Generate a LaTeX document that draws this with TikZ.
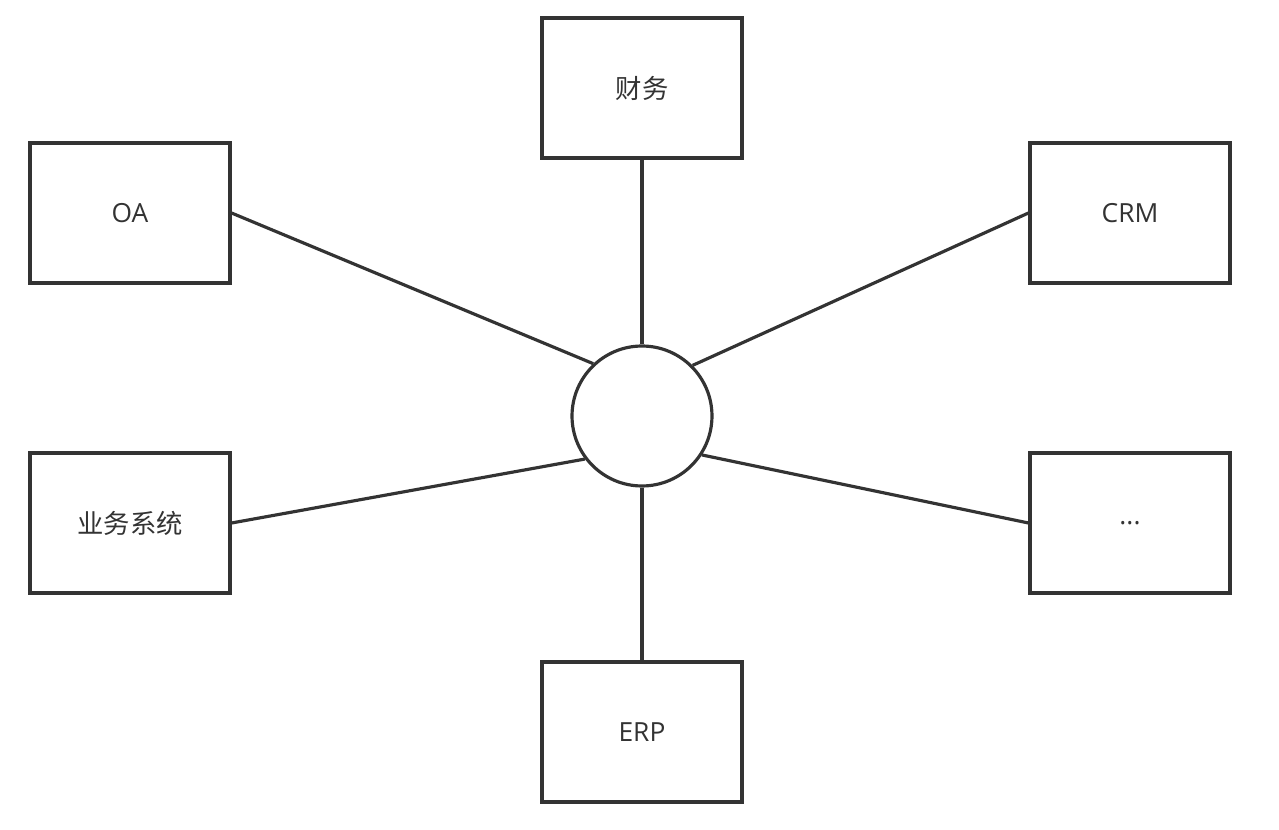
\documentclass[tikz,border=0pt]{standalone}
\usepackage{fontspec}
\setmainfont{Open Sans}
\newfontfamily\cjk{Noto Sans CJK SC}
\usepackage{xcolor}
\usepackage{tikz}
\usetikzlibrary{positioning}
\definecolor{ink}{HTML}{333333}
\tikzset{
  sysbox/.style={draw=ink, line width=1.8pt, fill=white, minimum width=4cm, minimum height=2.8cm, text=ink, font=\fontsize{15}{18}\selectfont},
  hubnode/.style={draw=ink, line width=1.8pt, circle, fill=white, minimum size=2.8cm},
  link/.style={draw=ink, line width=1.8pt}
}
\begin{document}
\begin{tikzpicture}[x=0.02cm, y=-0.02cm]
    \useasboundingbox (0,0) rectangle (1279,830);
    % Central hub
    \node[hubnode] (hub) at (642,416) {};

    % Surrounding systems
    \node[sysbox] (fin) at (642,88) {\cjk 财务};
    \node[sysbox] (oa) at (130,213) {OA};
    \node[sysbox] (crm) at (1130,213) {CRM};
    \node[sysbox] (biz) at (130,523) {\cjk 业务系统};
    \node[sysbox] (more) at (1130,523) {...};
    \node[sysbox] (erp) at (642,732) {ERP};

    % Links to the hub
    \draw[link] (fin) -- (hub);
    \draw[link] (oa.east) -- (hub.133);
    \draw[link] (crm.west) -- (hub.45);
    \draw[link] (biz.east) -- (hub.217);
    \draw[link] (more.west) -- (hub.-33);
    \draw[link] (erp) -- (hub);
\end{tikzpicture}
\end{document}
